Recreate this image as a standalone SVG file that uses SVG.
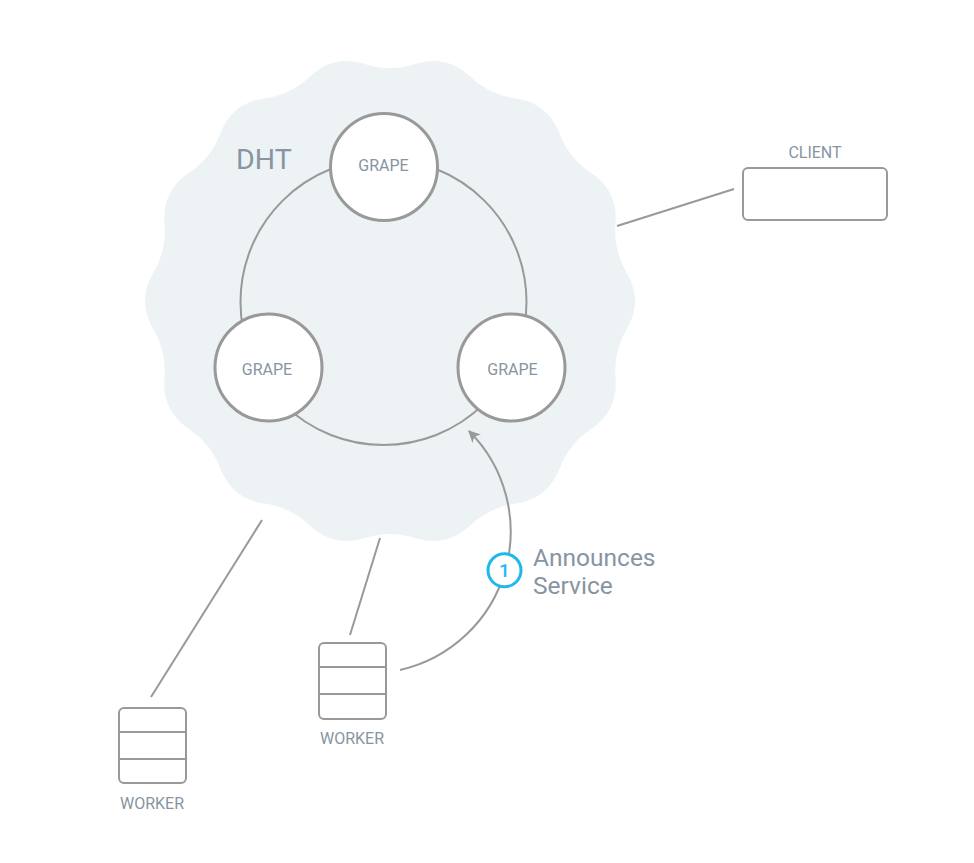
<svg xmlns="http://www.w3.org/2000/svg" width="974" height="863" viewBox="0 0 974 863">
<style>
text{font-family:Roboto,"Liberation Sans",sans-serif;fill:#8794A1}
.lbl{font-size:16px;text-anchor:middle}
.node{fill:#fff;stroke:#999;stroke-width:3}
.box{fill:#fff;stroke:#999;stroke-width:2}
.conn{fill:none;stroke:#999;stroke-width:2}
</style>
<defs>
<marker id="arr" viewBox="0 0 10 10" refX="9" refY="5" markerWidth="12" markerHeight="12" markerUnits="userSpaceOnUse" orient="auto">
<path d="M0,0 L10,5 L0,10 L2.5,5 Z" fill="#999"/>
</marker>
</defs>
<g id="dht">
<path fill="#EDF2F5" d="M627.50,274.24 Q642.5,301 627.50,327.76 Q612.77,351.85 615.59,379.94 Q617.49,410.55 592.37,428.16 Q568.65,443.47 559.00,470.00 Q547.43,498.41 517.16,503.37 Q489.14,506.87 468.94,526.59 Q446.19,547.17 416.76,538.50 Q390,529.5 363.24,538.50 Q333.81,547.17 311.06,526.59 Q290.86,506.87 262.84,503.37 Q232.57,498.41 221.00,470.00 Q211.35,443.47 187.63,428.16 Q162.51,410.55 164.41,379.94 Q167.23,351.85 152.50,327.76 Q137.5,301 152.50,274.24 Q167.23,250.15 164.41,222.06 Q162.51,191.45 187.63,173.84 Q211.35,158.53 221.00,132.00 Q232.57,103.59 262.84,98.63 Q290.86,95.13 311.06,75.41 Q333.81,54.83 363.24,63.50 Q390,72.5 416.76,63.50 Q446.19,54.83 468.94,75.41 Q489.14,95.13 517.16,98.63 Q547.43,103.59 559.00,132.00 Q568.65,158.53 592.37,173.84 Q617.49,191.45 615.59,222.06 Q612.77,250.15 627.50,274.24 Z"/>
<text x="236" y="169" style="font-size:28.5px">DHT</text>
<circle cx="383.5" cy="302" r="143" fill="none" stroke="#999" stroke-width="2"/>
</g>
<g id="connectors">
<line class="conn" x1="617" y1="226" x2="734" y2="189"/>
<line class="conn" x1="262" y1="520" x2="151" y2="697"/>
<line class="conn" x1="380" y1="538" x2="350" y2="635"/>
<path class="conn" d="M400,670 A142,142 0 0 0 469,431" marker-end="url(#arr)"/>
</g>
<g id="grape-top">
<circle class="node" cx="384" cy="167" r="53.5"/>
<text class="lbl" x="383.5" y="171">GRAPE</text>
</g>
<g id="grape-left">
<circle class="node" cx="268.5" cy="367.5" r="53.5"/>
<text class="lbl" x="267" y="375">GRAPE</text>
</g>
<g id="grape-right">
<circle class="node" cx="511.5" cy="367.5" r="53.5"/>
<text class="lbl" x="512.5" y="375">GRAPE</text>
</g>
<g id="client">
<rect class="box" x="743" y="168" width="144" height="52" rx="5"/>
<text class="lbl" x="815" y="158">CLIENT</text>
</g>
<g id="worker-1">
<rect class="box" x="119" y="708" width="67" height="75" rx="5"/>
<line class="box" x1="119" y1="732" x2="186" y2="732"/>
<line class="box" x1="119" y1="759" x2="186" y2="759"/>
<text class="lbl" x="152" y="809">WORKER</text>
</g>
<g id="worker-2">
<rect class="box" x="319" y="643" width="67" height="76" rx="5"/>
<line class="box" x1="319" y1="667" x2="386" y2="667"/>
<line class="box" x1="319" y1="694" x2="386" y2="694"/>
<text class="lbl" x="352" y="744">WORKER</text>
</g>
<g id="step-1">
<circle cx="504.5" cy="570.3" r="16.5" fill="#fff" stroke="#1DB9EE" stroke-width="3"/>
<text x="504.5" y="577" style="font-size:19px;font-weight:500;fill:#1DB9EE;text-anchor:middle">1</text>
<text x="533" y="566" style="font-size:24.5px">Announces</text>
<text x="533" y="594" style="font-size:24.5px">Service</text>
</g>
</svg>
